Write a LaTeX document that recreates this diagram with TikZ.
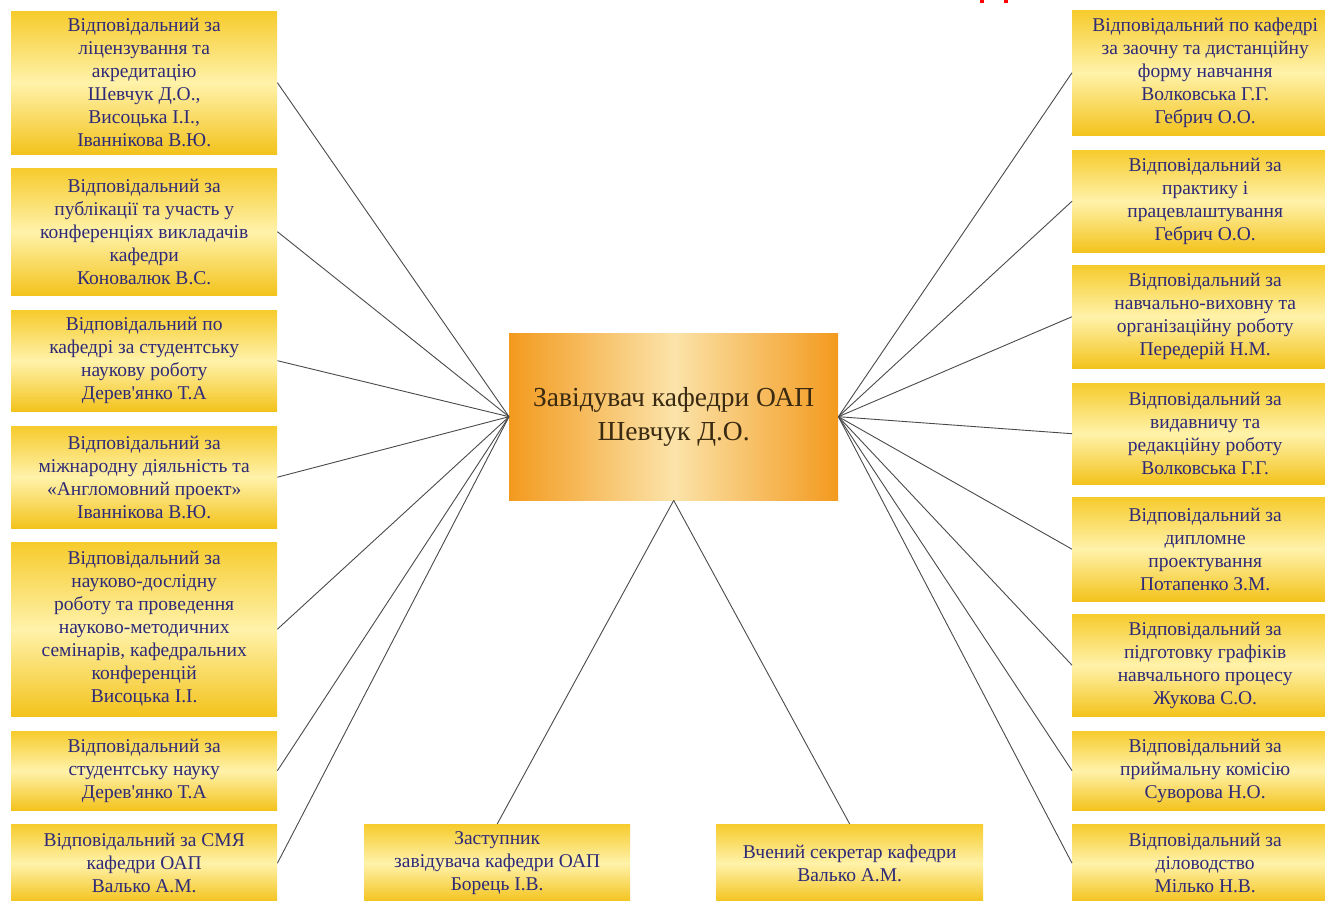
\documentclass[tikz,border=0pt]{standalone}
\usepackage{fontspec}
\setmainfont{Liberation Serif}
\newfontfamily\plainserif{Liberation Serif}
\definecolor{ytop}{HTML}{F6CB2C}
\definecolor{ymid}{HTML}{FFF2AA}
\definecolor{ybot}{HTML}{F3C31C}
\definecolor{otop}{HTML}{F39A1E}
\definecolor{omid}{HTML}{FBE3A9}
\definecolor{txtblue}{HTML}{2E2A78}
\definecolor{txtbrown}{HTML}{3A2A12}
\definecolor{linegray}{HTML}{4A4A4A}
\newcommand{\apos}{{\plainserif '}}
\tikzset{
  box/.style={rectangle, inner sep=0pt, anchor=north west, minimum width=266pt,
    top color=ytop, bottom color=ybot, middle color=ymid, align=center,
    font=\fontsize{19.5}{23}\selectfont, text=txtblue},
  chief/.style={rectangle, inner sep=0pt, anchor=north west, minimum width=329pt, minimum height=167pt,
    left color=otop, right color=otop, middle color=omid, align=center,
    font=\fontsize{27.5}{34}\selectfont, text=txtbrown},
  conn/.style={draw=linegray, line width=0.9pt},
}
\begin{document}
\begin{tikzpicture}[x=1pt,y=-1pt]
\useasboundingbox (0,0) rectangle (1325,901);
\clip (0,0) rectangle (1325,901);
\fill[white] (0,0) rectangle (1325,901);
\fill[red] (980,0) rectangle (984,3);
\fill[red] (1004,0) rectangle (1008,3);

\node[chief] (C) at (509,333) {Завідувач кафедри ОАП\\Шевчук Д.О.};

\node[box, minimum height=143pt] (L1) at (11,11) {Відповідальний за\\ліцензування та\\акредитацію\\Шевчук Д.О.,\\Висоцька І.І.,\\Іваннікова В.Ю.};
\node[box, minimum height=127pt] (L2) at (11,168) {Відповідальний за\\публікації та участь у\\конференціях викладачів\\кафедри\\Коновалюк В.С.};
\node[box, minimum height=101pt] (L3) at (11,310) {Відповідальний по\\кафедрі за студентську\\наукову роботу\\Дерев\apos янко Т.А};
\node[box, minimum height=102pt] (L4) at (11,426) {Відповідальний за\\міжнародну діяльність та\\«Англомовний проект»\\Іваннікова В.Ю.};
\node[box, minimum height=174pt] (L5) at (11,542) {Відповідальний за\\науково-дослідну\\роботу та проведення\\науково-методичних\\семінарів, кафедральних\\конференцій\\Висоцька І.І.};
\node[box, minimum height=79pt] (L6) at (11,731) {Відповідальний за\\студентську науку\\Дерев\apos янко Т.А};
\node[box, minimum height=78pt] (L7) at (11,824) {Відповідальний за СМЯ\\кафедри ОАП\\Валько А.М.};

\node[box, minimum height=125pt] (R1) at (1072,10) {Відповідальний по кафедрі\\за заочну та дистанційну\\форму навчання\\Волковська Г.Г.\\Гебрич О.О.};
\node[box, minimum height=102pt] (R2) at (1072,150) {Відповідальний за\\практику і\\працевлаштування\\Гебрич О.О.};
\node[box, minimum height=103pt] (R3) at (1072,265) {Відповідальний за\\навчально-виховну та\\організаційну роботу\\Передерій Н.М.};
\node[box, minimum height=101pt] (R4) at (1072,383) {Відповідальний за\\видавничу та\\редакційну роботу\\Волковська Г.Г.};
\node[box, minimum height=104pt] (R5) at (1072,497) {Відповідальний за\\дипломне\\проектування\\Потапенко З.М.};
\node[box, minimum height=102pt] (R6) at (1072,614) {Відповідальний за\\підготовку графіків\\навчального процесу\\Жукова С.О.};
\node[box, minimum height=79pt] (R7) at (1072,731) {Відповідальний за\\приймальну комісію\\Суворова Н.О.};
\node[box, minimum height=78pt] (R8) at (1072,824) {Відповідальний за\\діловодство\\Мілько Н.В.};

\node[box, minimum height=78pt] (B1) at (364,824) {Заступник\\завідувача кафедри ОАП\\Борець І.В.};
\node[box, minimum height=78pt, minimum width=267pt] (B2) at (716,824) {Вчений секретар кафедри\\Валько А.М.};

\foreach \n in {L1,L2,L3,L4,L5,L6,L7} \draw[conn] (\n.east) -- (C.west);
\foreach \n in {R1,R2,R3,R4,R5,R6,R7,R8} \draw[conn] (\n.west) -- (C.east);
\draw[conn] (C.south) -- (B1.north);
\draw[conn] (C.south) -- (B2.north);
\end{tikzpicture}
\end{document}
